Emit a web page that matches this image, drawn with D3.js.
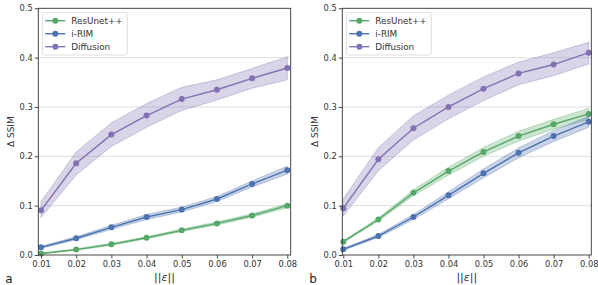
<!DOCTYPE html>
<html><head><meta charset="utf-8">
<script src="https://cdn.jsdelivr.net/npm/d3@7"></script>
<style>body{margin:0;background:#fff}svg{display:block}text{font-family:"DejaVu Sans",sans-serif}</style>
</head><body><svg id="c" width="598" height="285"></svg>
<script>
const xVals=[0.01,0.02,0.03,0.04,0.05,0.06,0.07,0.08];
const xTicks=["0.01","0.02","0.03","0.04","0.05","0.06","0.07","0.08"];
const yTicks=[0,0.1,0.2,0.3,0.4,0.5];
const seriesNames=["ResUnet++","i-RIM","Diffusion"];
const colors=["#55a868","#4c72b0","#8172b3"];
// panel a
const aRes=[0.003,0.011,0.0216,0.035,0.050,0.064,0.080,0.100];
const aResErr=[0.001,0.0015,0.002,0.002,0.0025,0.003,0.0035,0.004];
const aRim=[0.0155,0.034,0.056,0.077,0.092,0.1135,0.144,0.172];
const aRimErr=[0.002,0.003,0.004,0.005,0.005,0.005,0.006,0.008];
const aDiffLo=[0.076,0.162,0.220,0.259,0.293,0.314,0.338,0.355];
const aDiff=[0.0905,0.186,0.244,0.2825,0.316,0.335,0.358,0.379];
const aDiffHi=[0.108,0.209,0.268,0.307,0.340,0.355,0.378,0.402];
// panel b
const bRes=[0.027,0.072,0.126,0.170,0.209,0.241,0.265,0.286];
const bResErr=[0.002,0.003,0.006,0.008,0.009,0.010,0.010,0.011];
const bRim=[0.0115,0.0385,0.077,0.121,0.1655,0.207,0.241,0.270];
const bRimErr=[0.002,0.003,0.005,0.007,0.009,0.010,0.011,0.011];
const bDiffLo=[0.079,0.171,0.233,0.276,0.313,0.345,0.3635,0.387];
const bDiff=[0.095,0.194,0.257,0.300,0.337,0.368,0.386,0.410];
const bDiffHi=[0.114,0.2175,0.282,0.324,0.361,0.391,0.410,0.431];

const panels=[
 {label:"a",left:38.3,right:290.7,x0:41,x1:287.3,
  series:[
   {m:aRes,lo:aRes.map((v,i)=>v-aResErr[i]),hi:aRes.map((v,i)=>v+aResErr[i])},
   {m:aRim,lo:aRim.map((v,i)=>v-aRimErr[i]),hi:aRim.map((v,i)=>v+aRimErr[i])},
   {m:aDiff,lo:aDiffLo,hi:aDiffHi}]},
 {label:"b",left:342.3,right:591.3,x0:343.3,x1:588.7,
  series:[
   {m:bRes,lo:bRes.map((v,i)=>v-bResErr[i]),hi:bRes.map((v,i)=>v+bResErr[i])},
   {m:bRim,lo:bRim.map((v,i)=>v-bRimErr[i]),hi:bRim.map((v,i)=>v+bRimErr[i])},
   {m:bDiff,lo:bDiffLo,hi:bDiffHi}]}
];
const svg=d3.select("#c");
const pTop=8.3,pBottom=255;
panels.forEach(p=>{
  const g=svg.append("g");
  const xs=d3.scaleLinear().domain([0.01,0.08]).range([p.x0,p.x1]);
  const ys=d3.scaleLinear().domain([0,0.5]).range([pBottom,pTop]);
  g.selectAll(".grid").data(yTicks.slice(1,-1)).join("line")
   .attr("x1",p.left).attr("x2",p.right).attr("y1",d=>ys(d)).attr("y2",d=>ys(d))
   .attr("stroke","#dedede").attr("stroke-width",1);
  p.series.forEach((s,k)=>{
    const area=d3.area().x((d,i)=>xs(xVals[i])).y0((d,i)=>ys(s.lo[i])).y1((d,i)=>ys(s.hi[i]));
    g.append("path").datum(s.m).attr("d",area).attr("fill",colors[k]).attr("fill-opacity",0.3)
     .attr("stroke",colors[k]).attr("stroke-opacity",0.35).attr("stroke-width",1);
    const line=d3.line().x((d,i)=>xs(xVals[i])).y(d=>ys(d));
    g.append("path").datum(s.m).attr("d",line).attr("fill","none").attr("stroke",colors[k]).attr("stroke-width",1.4);
    g.selectAll(null).data(s.m).join("circle").attr("cx",(d,i)=>xs(xVals[i])).attr("cy",d=>ys(d))
     .attr("r",3).attr("fill",colors[k]);
  });
  const ax=g.append("g").attr("transform",`translate(0,${pBottom})`)
    .call(d3.axisBottom(xs).tickValues(xVals).tickFormat((d,i)=>xTicks[i]).tickSize(3.5).tickPadding(2.5).tickSizeOuter(0));
  const ay=g.append("g").attr("transform",`translate(${p.left},0)`)
    .call(d3.axisLeft(ys).tickValues(yTicks).tickFormat(d3.format(".1f")).tickSize(3.5).tickPadding(2).tickSizeOuter(0));
  [ax,ay].forEach(a=>{a.select(".domain").remove();
    a.selectAll("line").attr("stroke","#333").attr("stroke-width",0.9);
    a.selectAll("text").attr("fill","#333").attr("font-size","8.3px").attr("font-family","DejaVu Sans");});
  g.append("rect").attr("x",p.left).attr("y",pTop).attr("width",p.right-p.left).attr("height",pBottom-pTop)
   .attr("fill","none").attr("stroke","#333").attr("stroke-width",0.9);
  g.append("text").attr("transform",`translate(${p.left-24},${(pTop+pBottom)/2}) rotate(-90)`)
   .attr("text-anchor","middle").attr("font-size","9px").attr("fill","#333").text("Δ SSIM");
  const xl=g.append("text").attr("x",(p.left+p.right)/2).attr("y",281).attr("text-anchor","middle")
   .attr("font-size","11px").attr("fill","#333");
  xl.append("tspan").text("||");
  xl.append("tspan").attr("font-style","italic").text("ε");
  xl.append("tspan").text("||");
  g.append("text").attr("x",p.left-33).attr("y",283).attr("font-size","12px").attr("fill","#222").text(p.label);
  const lx=p.left+4, ly=12.7;
  const lg=g.append("g");
  lg.append("rect").attr("x",lx).attr("y",ly).attr("width",85).attr("height",42.3).attr("rx",2)
   .attr("fill","#fff").attr("fill-opacity",0.8).attr("stroke","#ddd");
  seriesNames.forEach((n,k)=>{
    const yy=ly+8+13*k;
    lg.append("line").attr("x1",lx+3).attr("x2",lx+23).attr("y1",yy).attr("y2",yy).attr("stroke",colors[k]).attr("stroke-width",1.4);
    lg.append("circle").attr("cx",lx+13).attr("cy",yy).attr("r",3).attr("fill",colors[k]);
    lg.append("text").attr("x",lx+29).attr("y",yy).attr("dy","0.35em").attr("font-size","8.8px").attr("fill","#333").text(n);
  });
});
</script></body></html>
